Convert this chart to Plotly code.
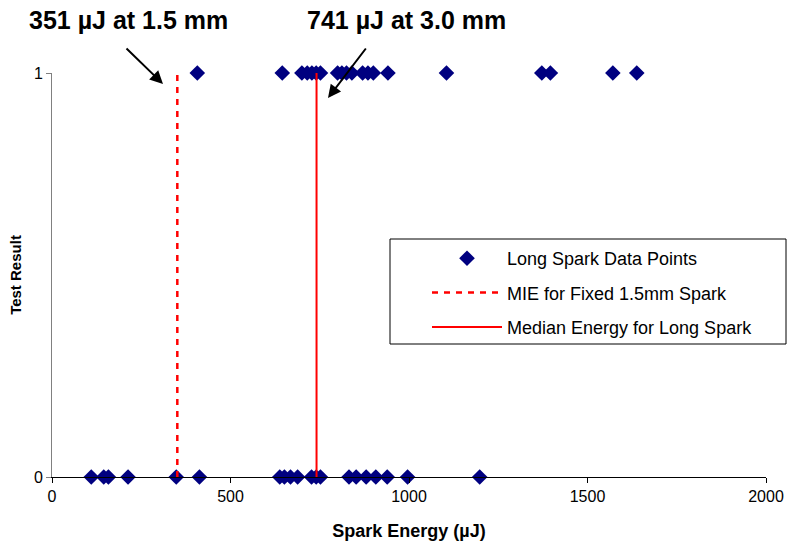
import plotly.graph_objects as go

# Data
energy_fail = [110, 145, 158, 213, 348, 413, 638, 651, 668, 688, 727, 740, 752,
               832, 852, 880, 907, 939, 996, 1198]
energy_ignite = [407, 645, 700, 715, 728, 740, 752, 800, 812, 825, 840, 870, 885,
                 900, 941, 1105, 1372, 1396, 1571, 1638]
mie_fixed = 351
median_long = 741
x_ticks = [0, 500, 1000, 1500, 2000]
y_ticks = [0, 1]

FONT = "Liberation Sans, Arial, sans-serif"

# plot area in pixels
L, R, T, B = 52, 766, 73, 477
W, H = R - L, B - T


def px_x(p):
    return (p - L) / W


def px_y(p):
    return (B - p) / H


xs = energy_fail + energy_ignite
ys = [0] * len(energy_fail) + [1] * len(energy_ignite)

fig = go.Figure()
fig.add_trace(go.Scatter(
    x=xs, y=ys, mode="markers", name="Long Spark Data Points",
    marker=dict(symbol="diamond", size=12, color="#000080",
                line=dict(width=0)),
    cliponaxis=False, legendgroup="a"))
fig.add_trace(go.Scatter(
    x=[mie_fixed, mie_fixed], y=[0, 1], mode="lines",
    name="MIE for Fixed 1.5mm Spark",
    line=dict(color="#ff0000", width=2.5, dash="6px,6px"), legendgroup="b"))
fig.add_trace(go.Scatter(
    x=[median_long, median_long], y=[0, 1], mode="lines",
    name="Median Energy for Long Spark",
    line=dict(color="#ff0000", width=2), legendgroup="c"))

fig.update_layout(
    width=787, height=545,
    margin=dict(l=L, r=787 - R, t=T, b=545 - B),
    plot_bgcolor="white", paper_bgcolor="white",
    font=dict(family=FONT, size=16, color="black"),
    showlegend=True,
    legend=dict(x=px_x(427), y=px_y(240), xanchor="left", yanchor="top",
                borderwidth=0, bgcolor="rgba(0,0,0,0)",
                font=dict(size=18, family=FONT), itemwidth=70,
                tracegroupgap=8, traceorder="grouped"),
    xaxis=dict(range=[0, 2000], tickvals=x_ticks, showgrid=False,
               zeroline=False, showline=True, linecolor="black", linewidth=1,
               ticks="outside", ticklen=5, tickcolor="black",
               tickfont=dict(size=16), automargin=False,
               title=dict(text="<b>Spark Energy (µJ)</b>",
                          font=dict(size=18), standoff=20)),
    yaxis=dict(range=[0, 1], tickvals=y_ticks, showgrid=False,
               zeroline=False, showline=True, linecolor="#808080", linewidth=1,
               ticks="outside", ticklen=5, tickcolor="#808080",
               tickfont=dict(size=16), automargin=False,
               title=dict(text="<b>Test Result</b>", font=dict(size=15),
                          standoff=8)),
)

# legend frame
fig.add_shape(type="rect", xref="paper", yref="paper",
              x0=px_x(390), x1=px_x(786), y0=px_y(344), y1=px_y(239),
              line=dict(color="black", width=1), fillcolor="rgba(0,0,0,0)",
              layer="below")


def data_x(p):
    return px_x(p) * 2000


def data_y(p):
    return px_y(p)


fig.add_annotation(x=data_x(163), y=data_y(84), xref="x", yref="y",
                   ax=data_x(125), ay=data_y(47), axref="x", ayref="y",
                   text="", showarrow=True, arrowhead=2, arrowsize=1.3,
                   arrowwidth=2, arrowcolor="black", standoff=0)
fig.add_annotation(x=data_x(328), y=data_y(98), xref="x", yref="y",
                   ax=data_x(367), ay=data_y(47), axref="x", ayref="y",
                   text="", showarrow=True, arrowhead=2, arrowsize=1.3,
                   arrowwidth=2, arrowcolor="black", standoff=0)
fig.add_annotation(xref="paper", yref="paper", x=px_x(128), y=px_y(20),
                   xanchor="center", yanchor="middle",
                   text="<b>351 µJ at 1.5 mm</b>",
                   showarrow=False, font=dict(size=25, family=FONT))
fig.add_annotation(xref="paper", yref="paper", x=px_x(406), y=px_y(20),
                   xanchor="center", yanchor="middle",
                   text="<b>741 µJ at 3.0 mm</b>",
                   showarrow=False, font=dict(size=25, family=FONT))

fig.write_html("out.html")
